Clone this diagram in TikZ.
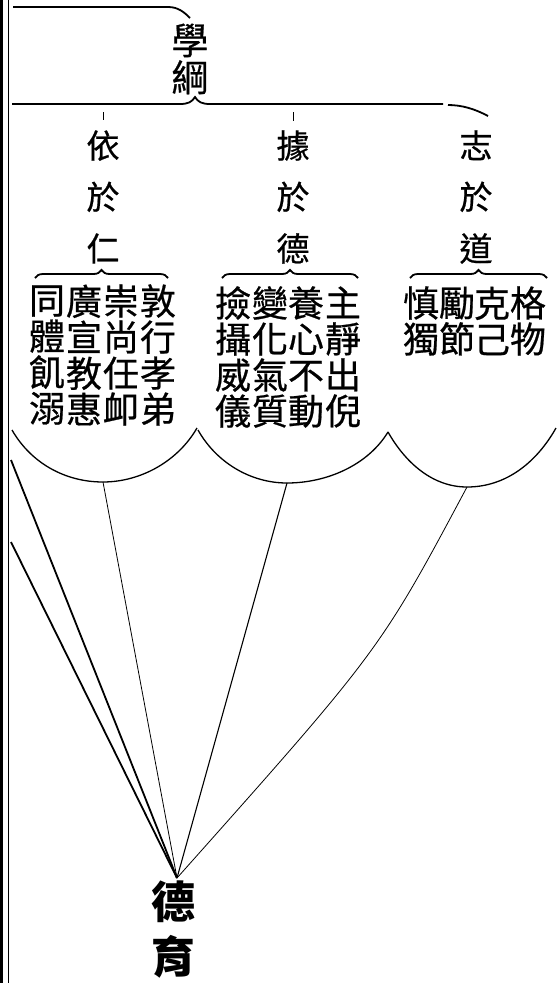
\documentclass[tikz,border=0pt]{standalone}
\usepackage{fontspec}
\newfontfamily\cjk[FakeBold=0.6]{Noto Sans CJK TC}
\newfontfamily\cjkroot{Noto Sans CJK TC}
\usetikzlibrary{decorations.pathreplacing}
\begin{document}
\begin{tikzpicture}[x=1pt,y=-1pt,
  ink/.style={draw=black},
  gridcol/.style={font=\cjk\fontsize{36}{36}\selectfont, align=center, inner sep=0pt},
  headcol/.style={font=\cjk\fontsize{33}{51.5}\selectfont, align=center, inner sep=0pt},
  titlecol/.style={font=\cjk\fontsize{37}{37}\selectfont, align=center, inner sep=0pt},
  rootcol/.style={font=\cjkroot\bfseries\fontsize{44}{55}\selectfont, align=center, inner sep=0pt},
  bracket/.style={ink, line width=1.8pt, decorate, decoration={brace, amplitude=8pt}},
  rule/.style={ink, line width=1.8pt},
  scallop/.style={ink, line width=1.3pt},
  thickline/.style={ink, line width=1.8pt},
  thinline/.style={ink, line width=0.8pt},
  midline/.style={ink, line width=1.1pt},
  tick/.style={ink, line width=1pt}
]
\useasboundingbox (0,0) rectangle (559,983);

% left border
\draw[line width=3pt] (1.5,0) -- (1.5,983);
\draw[line width=0.8pt] (8,0) -- (8,983);

% top partial brace line
\draw[rule] (13,7) -- (168,7) .. controls (178,7) and (184,12) .. (190,18);

% title
\node[titlecol] (title) at (190,59) {學\\綱};

% big brace under title
\draw[rule] (12,104) -- (180,104) .. controls (188,104) and (192,102) .. (195,97)
  .. controls (198,102) and (202,104) .. (210,104) -- (443,104);
\draw[rule] (448,105) .. controls (462,105) and (475,109) .. (488,116);

% ticks
\draw[tick] (103,112) -- (103,120);
\draw[tick] (293,112) -- (293,121);

% headings
\node[headcol] (hren) at (103,197) {依\\於\\仁};
\node[headcol] (hde)  at (293,197) {據\\於\\德};
\node[headcol] (hdao) at (476,197) {志\\於\\道};

% braces under headings
\draw[bracket] (35,278) -- (168,278);
\draw[bracket] (222,278) -- (358,278);
\draw[bracket] (410,278) -- (547,278);

% left group (依於仁)
\node[gridcol] (r1) at (158,355) {敦\\行\\孝\\弟};
\node[gridcol] (r2) at (121,355) {崇\\尚\\任\\卹};
\node[gridcol] (r3) at (84,355)  {廣\\宣\\教\\惠};
\node[gridcol] (r4) at (47,355)  {同\\體\\飢\\溺};

% middle group (據於德)
\node[gridcol] (d1) at (343,357) {主\\靜\\出\\倪};
\node[gridcol] (d2) at (306,357) {養\\心\\不\\動};
\node[gridcol] (d3) at (270,357) {變\\化\\氣\\質};
\node[gridcol] (d4) at (233,357) {撿\\攝\\威\\儀};

% right group (志於道)
\node[gridcol] (t1) at (528,321) {格\\物};
\node[gridcol] (t2) at (492,321) {克\\己};
\node[gridcol] (t3) at (457,321) {勵\\節};
\node[gridcol] (t4) at (421,321) {慎\\獨};

% scalloped arcs
\coordinate (b1) at (103,482);
\coordinate (b2) at (287,483);
\coordinate (b3) at (467,487);
\draw[scallop] (12,430) .. controls (31,463) and (65,482) .. (b1)
  .. controls (141,482) and (178,461) .. (197,428);
\draw[scallop] (198,430) .. controls (216,462) and (250,483) .. (b2)
  .. controls (327,483) and (368,465) .. (388,432);
\draw[scallop] (388,432) .. controls (405,462) and (432,487) .. (b3)
  .. controls (508,487) and (538,460) .. (556,428);

% root
\node[rootcol] (root) at (173,930) {德\\育};
\coordinate (apex) at (177,878);
\coordinate (s1) at (11,460);
\coordinate (s2) at (11,542);

% connectors
\draw[thickline] (s1) -- (apex);
\draw[thickline] (s2) -- (apex);
\draw[thinline] (b1) -- (apex);
\draw[midline] (b2) -- (apex);
\draw[thinline] (b3) .. controls (380,650) .. (apex);
\end{tikzpicture}
\end{document}
